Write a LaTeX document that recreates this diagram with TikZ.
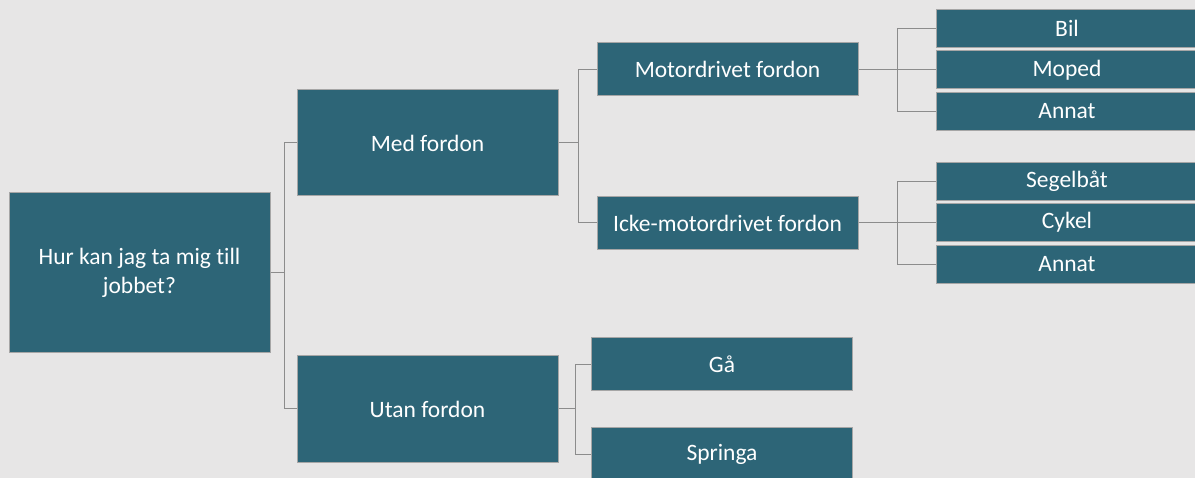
\documentclass[tikz,border=0pt]{standalone}
\usepackage{fontspec}
\setmainfont{Carlito}[Ligatures=NoCommon]
\usepackage{tikz}
\usetikzlibrary{positioning,calc}
\definecolor{bgcol}{HTML}{E7E6E6}
\definecolor{boxcol}{HTML}{2D6577}
\definecolor{edgecol}{HTML}{A6A6A6}
\definecolor{linecol}{HTML}{8C8C8C}
\begin{document}
\begin{tikzpicture}[x=1pt,y=-1pt,
  box node/.style={rectangle,draw=edgecol,fill=boxcol,line width=1pt,inner sep=0pt,
    text=white,align=center,font=\fontsize{23.5}{28.5}\selectfont},
  big node/.style={box node,minimum width=261pt,minimum height=106pt},
  mid node/.style={box node,minimum width=261pt,minimum height=53pt},
  leaf node/.style={box node,minimum width=262pt,minimum height=38pt},
  link/.style={draw=linecol,line width=1pt}]
    \fill[bgcol] (0,0) rectangle (1195,478);
    \useasboundingbox (0,0) rectangle (1195,478);
    \node[box node,minimum width=261pt,minimum height=160pt](root) at (139.5,273){Hur kan jag ta mig till\\jobbet?};
    \node[big node](med) at (427.5,143){Med fordon};
    \node[big node](utan) at (427.5,409){Utan fordon};
    \node[mid node](motor) at (727.5,69.5){Motordrivet fordon};
    \node[mid node](icke) at (727.5,223){Icke-motordrivet fordon};
    \node[mid node](ga) at (722,364.5){Gå};
    \node[mid node](springa) at (722,454.5){Springa};
    \node[leaf node](bil) at (1067,28.5){Bil};
    \node[leaf node](moped) at (1067,70){Moped};
    \node[leaf node](annatA) at (1067,111.5){Annat};
    \node[leaf node](segel) at (1067,181.3){Segelbåt};
    \node[leaf node](cykel) at (1067,222.5){Cykel};
    \node[leaf node](annatB) at (1067,264.3){Annat};
    % connectors
    \foreach \t in {med,utan} \path[link] (root.east) -- ++(14,0) |- (\t.west);
    \foreach \t in {motor,icke} \path[link] (med.east) -- ++(19.5,0) |- (\t.west);
    \foreach \t in {ga,springa} \path[link] (utan.east) -- ++(17,0) |- (\t.west);
    \foreach \t in {bil,moped,annatA} \path[link] (motor.east) -- ++(39,0) |- (\t.west);
    \foreach \t in {segel,cykel,annatB} \path[link] (icke.east) -- ++(39,0) |- (\t.west);
\end{tikzpicture}
\end{document}
